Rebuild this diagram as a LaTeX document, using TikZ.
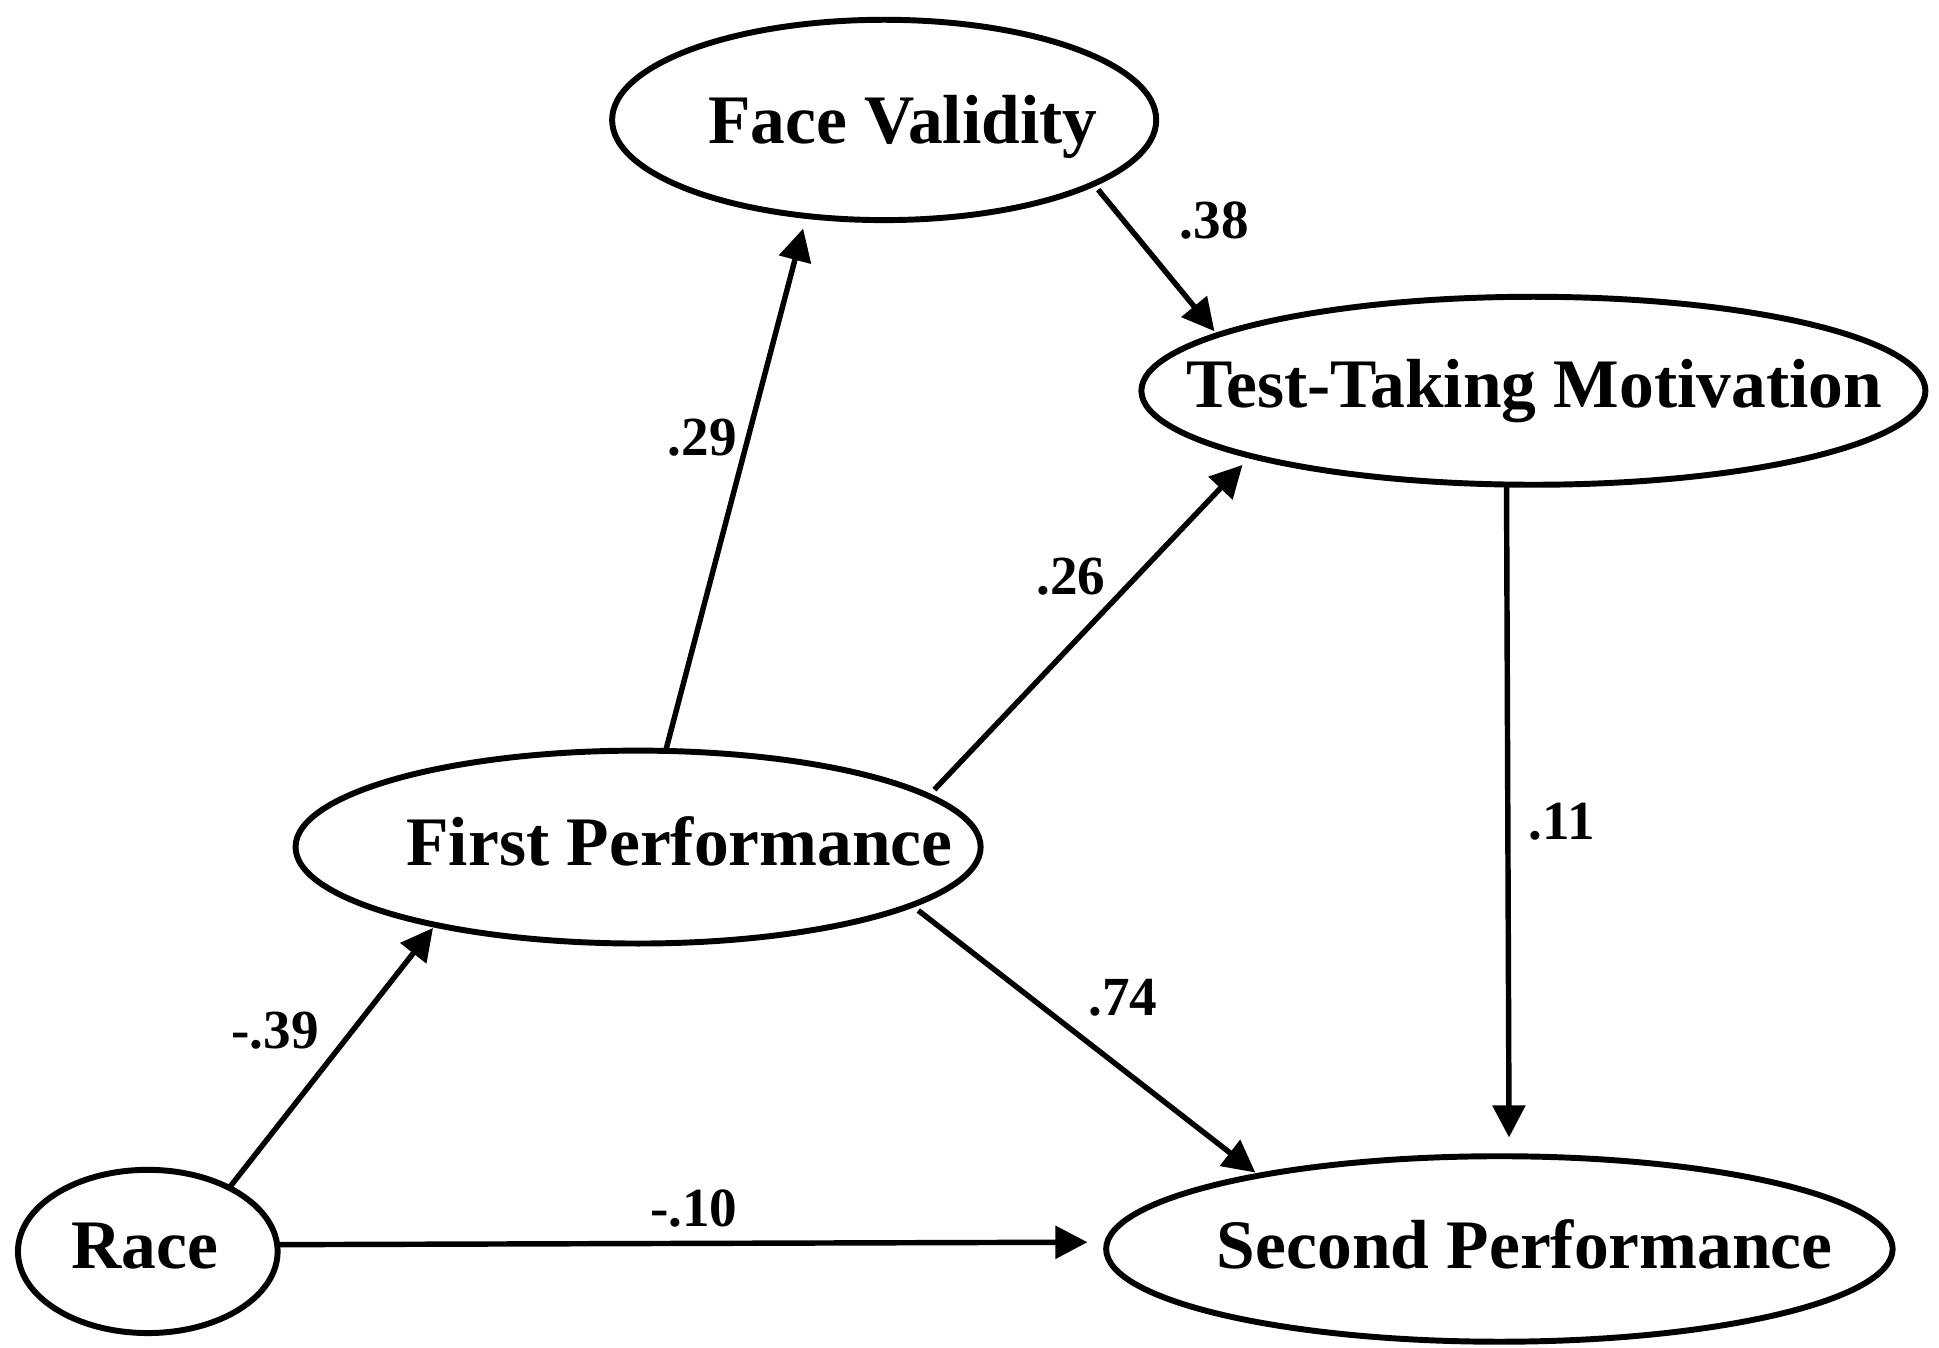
\documentclass[tikz,border=0pt]{standalone}
\usepackage{fontspec}
\setmainfont{Liberation Serif}
\usetikzlibrary{shapes.geometric,arrows.meta}
\begin{document}
\begin{tikzpicture}[x=0.5pt,y=-0.5pt,
  latent/.style={draw, ellipse, line width=2.4pt, inner sep=0pt, outer sep=0pt},
  vartext/.style={anchor=base, inner sep=0pt, font=\fontsize{28.1pt}{30pt}\selectfont\bfseries},
  coef/.style={anchor=base, inner sep=0pt, font=\fontsize{22.3pt}{24pt}\selectfont\bfseries},
  effect/.style={line width=2.2pt, -{Triangle[length=13pt,width=13pt]}}]

\useasboundingbox (0,0) rectangle (1568,1090);

% latent variables
\node[latent, minimum width=220pt, minimum height=81pt] (fv) at (715,97) {};
\node[latent, minimum width=317pt, minimum height=76pt] (ttm) at (1240,316) {};
\node[latent, minimum width=277pt, minimum height=78pt] (fp) at (516,685) {};
\node[latent, minimum width=105pt, minimum height=66pt] (race) at (119.5,1012) {};
\node[latent, minimum width=318pt, minimum height=75pt] (sp) at (1212.5,1010) {};

% variable names
\node[vartext] (fvt) at (730,116.4) {Face Validity};
\node[vartext] (ttmt) at (1240.5,329.7) {Test-Taking Motivation};
\node[vartext] (fpt) at (549.5,699.5) {First Performance};
\node[vartext] (racet) at (117,1025.7) {Race};
\node[vartext] (spt) at (1233,1025.7) {Second Performance};

% paths
\draw[effect, shorten >=5.3pt] (fp.74.4) -- (fv.231.3);
\draw[effect, shorten <=3pt, shorten >=2pt] (fv.343.8) -- (ttm.170.24);
\draw[effect, shorten <=3.5pt, shorten >=5pt] (fp.10.81) -- (ttm.193.57);
\draw[effect, shorten >=7.6pt] (ttm.254.87) -- (sp.84.67);
\draw[effect, shorten <=3.5pt, shorten >=2pt] (fp.348.94) -- (sp.163.97);
\draw[effect, shorten >=1.6pt] (race.38.9) -- (fp.201.2);
\draw[effect, shorten >=8pt] (race.3.43) -- (sp.179.42);

% path coefficients
\node[coef] (c38) at (982,193) {.38};
\node[coef] (c29) at (568,368) {.29};
\node[coef] (c26) at (866,481) {.26};
\node[coef] (c11) at (1263,679) {.11};
\node[coef] (c74) at (908,821) {.74};
\node[coef] (c39) at (222.4,848) {-.39};
\node[coef] (c10) at (561,992) {-.10};
\end{tikzpicture}
\end{document}
